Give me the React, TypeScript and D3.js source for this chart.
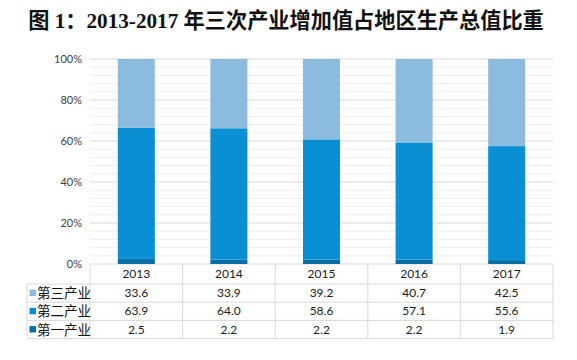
import { useEffect, useRef } from 'react';
import * as d3 from 'd3';

const years = ['2013', '2014', '2015', '2016', '2017'];
const tertiary = [33.6, 33.9, 39.2, 40.7, 42.5];
const secondary = [63.9, 64.0, 58.6, 57.1, 55.6];
const primary = [2.5, 2.2, 2.2, 2.2, 1.9];
const seriesNames = ['第三产业', '第二产业', '第一产业'];
const yTicks = [0, 20, 40, 60, 80, 100];

const App = () => {
  const svgRef = useRef<SVGSVGElement>(null);

  useEffect(() => {
    const svg = d3.select(svgRef.current);
    svg.selectAll('*').remove();

    const width = 577;
    const height = 360;
    const left = 90, right = 553, top = 59, bottom = 264;
    const rowH = 18.2;
    const headerH = 20;
    const tableLeft = 27;
    const colors = ['#8cbbe0', '#0a8fd5', '#0a6ea6'];
    const gridCol = '#d9d9d9';

    svg.attr('width', width).attr('height', height);
    svg.append('rect').attr('width', width).attr('height', height).attr('fill', '#fff');

    svg.append('text')
      .attr('x', 286)
      .attr('y', 28)
      .attr('text-anchor', 'middle')
      .attr('font-family', '"Liberation Serif", "Noto Sans CJK SC"')
      .attr('font-weight', 'bold')
      .attr('font-size', 21.2)
      .attr('fill', '#111')
      .text('图 1：2013-2017 年三次产业增加值占地区生产总值比重');

    const x = d3.scaleBand().domain(years).range([left, right]).paddingInner(0.6).paddingOuter(0.3);
    const xCol = d3.scaleBand().domain(years).range([left, right]);
    const y = d3.scaleLinear().domain([0, 100]).range([bottom, top]);

    // minor gridlines
    svg.append('g').selectAll('line')
      .data(d3.range(0, 101, 4).filter(v => v % 20 !== 0))
      .join('line')
      .attr('x1', left).attr('x2', right)
      .attr('y1', d => y(d)).attr('y2', d => y(d))
      .attr('stroke', '#eeeeee').attr('stroke-width', 1);

    svg.append('g').selectAll('line')
      .data(yTicks)
      .join('line')
      .attr('x1', left).attr('x2', right)
      .attr('y1', d => y(d)).attr('y2', d => y(d))
      .attr('stroke', gridCol).attr('stroke-width', 1);

    const yAxis = svg.append('g').attr('transform', `translate(${left},0)`)
      .call(d3.axisLeft(y).tickValues(yTicks).tickFormat(d => `${d}%`).tickSize(0).tickPadding(8));
    yAxis.select('.domain').remove();
    yAxis.selectAll('text')
      .attr('font-family', 'Lato, "Open Sans", sans-serif')
      .attr('font-size', 11)
      .attr('fill', '#404040');

    const rows = years.map((yr, i) => ({ year: yr, p: primary[i], s: secondary[i], t: tertiary[i] }));
    const stack = d3.stack<any>().keys(['p', 's', 't'])(rows);
    const stackColors = [colors[2], colors[1], colors[0]];

    svg.append('g').selectAll('g')
      .data(stack)
      .join('g')
      .attr('fill', (_, i) => stackColors[i])
      .selectAll('rect')
      .data(d => d)
      .join('rect')
      .attr('x', d => x(d.data.year)!)
      .attr('width', x.bandwidth())
      .attr('y', d => y(Math.min(d[1], 100)))
      .attr('height', d => y(d[0]) - y(Math.min(d[1], 100)));

    // data table
    const table = svg.append('g')
      .attr('font-family', 'Lato, "Open Sans", sans-serif')
      .attr('font-size', 12)
      .attr('fill', '#1a1a1a');

    const bodyTop = bottom + headerH;
    const tableBottom = bodyTop + rowH * 3;

    const vx = [left, ...years.map(yr => xCol(yr)! + xCol.bandwidth())];
    table.selectAll('line.v')
      .data(vx)
      .join('line')
      .attr('x1', d => d).attr('x2', d => d)
      .attr('y1', bottom).attr('y2', tableBottom)
      .attr('stroke', gridCol);
    table.selectAll('line.h')
      .data([0, 1, 2, 3])
      .join('line')
      .attr('x1', tableLeft).attr('x2', right)
      .attr('y1', d => bodyTop + d * rowH).attr('y2', d => bodyTop + d * rowH)
      .attr('stroke', gridCol);
    table.append('line')
      .attr('x1', tableLeft).attr('x2', tableLeft)
      .attr('y1', bodyTop).attr('y2', tableBottom)
      .attr('stroke', gridCol);

    table.selectAll('text.yr')
      .data(years)
      .join('text')
      .attr('x', d => xCol(d)! + xCol.bandwidth() / 2)
      .attr('y', bottom + headerH / 2 + 4)
      .attr('text-anchor', 'middle')
      .text(d => d);

    const seriesVals = [tertiary, secondary, primary];
    seriesVals.forEach((vals, r) => {
      const cy = bodyTop + r * rowH + rowH / 2;
      table.append('rect')
        .attr('x', tableLeft + 2.5).attr('y', cy - 3.5)
        .attr('width', 6.5).attr('height', 6.5)
        .attr('fill', colors[r]);
      table.append('text')
        .attr('x', tableLeft + 10).attr('y', cy + 5)
        .attr('font-family', '"Noto Sans CJK SC", sans-serif')
        .attr('font-size', 13.5)
        .attr('fill', '#111')
        .text(seriesNames[r]);
      table.selectAll(null)
        .data(vals)
        .join('text')
        .attr('x', (_, i) => xCol(years[i])! + xCol.bandwidth() / 2)
        .attr('y', cy + 4)
        .attr('text-anchor', 'middle')
        .text(d => d.toFixed(1));
    });
  }, []);

  return <svg ref={svgRef} width={577} height={360} style={{ position: 'absolute', left: 0, top: 0 }}></svg>;
};

export default App;
